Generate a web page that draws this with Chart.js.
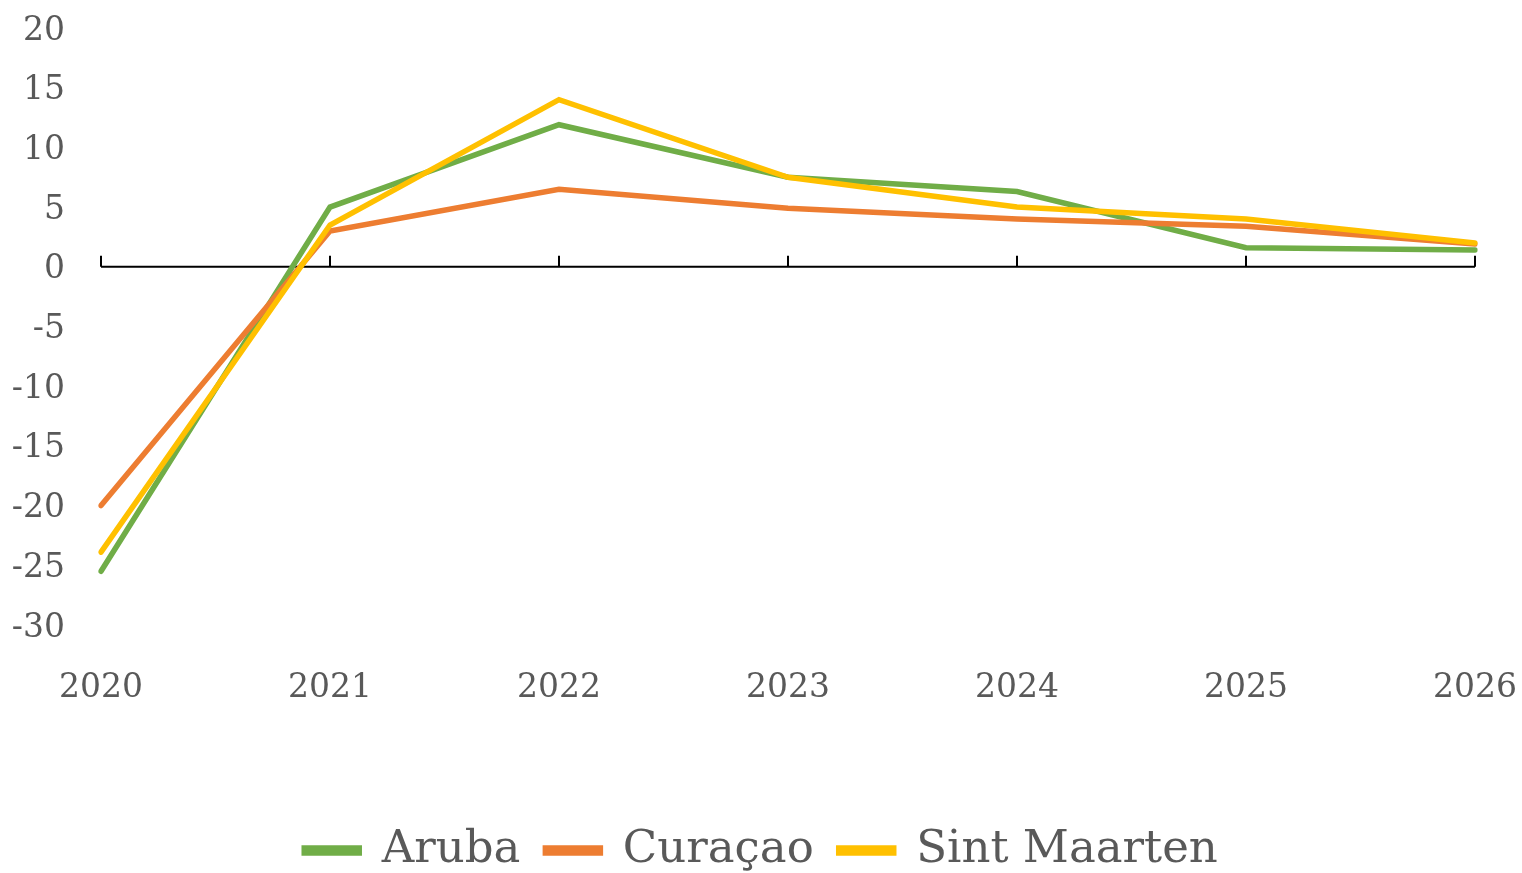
<!DOCTYPE html>
<html>
<head>
<meta charset="utf-8">
<script src="https://cdn.jsdelivr.net/npm/chart.js@4/dist/chart.umd.min.js"></script>
<style>
  html, body { margin: 0; padding: 0; background: #fff; }
  #wrap { width: 1522px; height: 873px; }
</style>
</head>
<body>
<div id="wrap"><canvas id="chart"></canvas></div>
<script>
// données
const years = ['2020', '2021', '2022', '2023', '2024', '2025', '2026'];
const aruba = [-25.5, 5.0, 11.9, 7.5, 6.3, 1.6, 1.4];
const curacao = [-20.0, 3.0, 6.5, 4.9, 4.0, 3.4, 1.9];
const sintMaarten = [-23.9, 3.5, 14.0, 7.5, 5.0, 4.0, 2.0];
const yTicks = [20, 15, 10, 5, 0, -5, -10, -15, -20, -25, -30];

const textColor = '#595959';
const serif = "'DejaVu Serif', 'Liberation Serif', serif";
const plotBottom = 625;
const legendShift = 10;

// axe du zéro avec graduations vers le haut
const zeroAxis = {
    id: 'zeroAxis',
    beforeDatasetsDraw(chart) {
        const ctx = chart.ctx;
        const x = chart.scales.x;
        const y0 = chart.scales.y.getPixelForValue(0);
        ctx.save();
        ctx.strokeStyle = '#000';
        ctx.lineWidth = 2;
        ctx.beginPath();
        ctx.moveTo(x.getPixelForValue(0), y0);
        ctx.lineTo(x.getPixelForValue(years.length - 1), y0);
        years.forEach((yr, i) => {
            const px = x.getPixelForValue(i);
            ctx.moveTo(px, y0);
            ctx.lineTo(px, y0 - 11);
        });
        ctx.stroke();
        ctx.restore();
    }
};

function line(label, data, color, order) {
    return {
        label: label,
        data: data,
        borderColor: color,
        backgroundColor: color,
        borderWidth: 5.5,
        pointRadius: 0,
        tension: 0,
        borderCapStyle: 'round',
        borderJoinStyle: 'miter',
        order: order
    };
}

const ctx = document.getElementById('chart').getContext('2d');
new Chart(ctx, {
    type: 'line',
    data: {
        labels: years,
        datasets: [
            line('Aruba', aruba, '#70AD47', 2),
            line('Curaçao', curacao, '#ED7D31', 1),
            line('Sint Maarten', sintMaarten, '#FFC000', 0)
        ]
    },
    plugins: [zeroAxis],
    options: {
        responsive: true,
        maintainAspectRatio: false,
        animation: false,
        layout: {
            padding: { top: 28, right: 0, left: 0, bottom: -legendShift }
        },
        plugins: {
            tooltip: { enabled: false },
            legend: {
                position: 'bottom',
                labels: {
                    color: textColor,
                    font: { family: serif, size: 45 },
                    boxWidth: 55,
                    boxHeight: 5,
                    padding: 25,
                    sort: (a, b) => a.datasetIndex - b.datasetIndex
                }
            }
        },
        scales: {
            x: {
                offset: false,
                grid: { display: false, drawTicks: false },
                border: { display: false },
                ticks: {
                    color: textColor,
                    font: { family: serif, size: 33 },
                    padding: 44,
                    maxRotation: 0
                },
                afterFit(scale) {
                    const lg = scale.chart.legend;
                    const lh = lg && lg.height ? lg.height : 80;
                    scale.height = scale.chart.height + legendShift - plotBottom - lh;
                    scale.paddingLeft = 0;
                    scale.paddingRight = 47;
                }
            },
            y: {
                min: -30,
                max: 20,
                grid: { display: false, drawTicks: false },
                border: { display: false },
                afterBuildTicks(scale) {
                    scale.ticks = yTicks.map(v => ({ value: v }));
                },
                ticks: {
                    color: textColor,
                    font: { family: serif, size: 33 },
                    padding: 36,
                    labelOffset: 3
                },
                afterFit(scale) {
                    scale.width = 101;
                    scale.paddingTop = 0;
                    scale.paddingBottom = 0;
                }
            }
        }
    }
});
</script>
</body>
</html>
